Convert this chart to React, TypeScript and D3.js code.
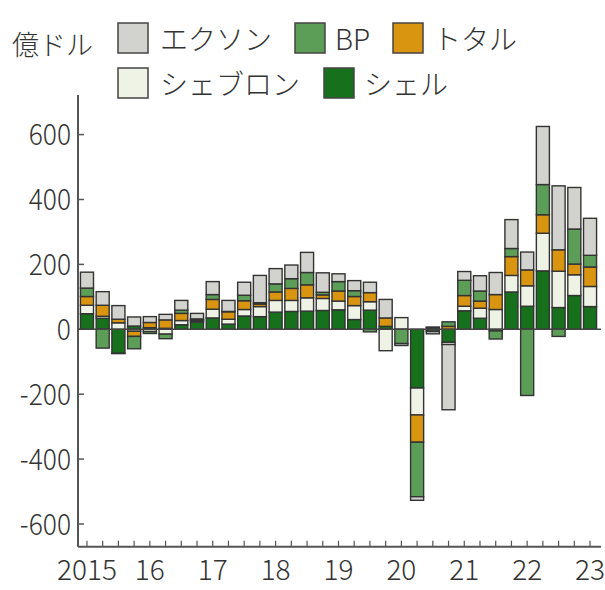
import React from 'react';
import * as d3 from 'd3';

// Quarterly net income of five oil majors, in 億ドル (100 million USD)
const quarters = [
  '2015Q1', '2015Q2', '2015Q3', '2015Q4',
  '2016Q1', '2016Q2', '2016Q3', '2016Q4',
  '2017Q1', '2017Q2', '2017Q3', '2017Q4',
  '2018Q1', '2018Q2', '2018Q3', '2018Q4',
  '2019Q1', '2019Q2', '2019Q3', '2019Q4',
  '2020Q1', '2020Q2', '2020Q3', '2020Q4',
  '2021Q1', '2021Q2', '2021Q3', '2021Q4',
  '2022Q1', '2022Q2', '2022Q3', '2022Q4',
  '2023Q1',
];

const shell = [48, 34, -74, 10, 5, 3, 14, 22, 35, 16, 41, 39, 53, 55, 56, 58, 60, 30, 59, 9, 0, -181, 5, -40, 57, 34, -5, 115, 71, 180, 67, 104, 70];
const chevron = [26, 6, 20, -6, -7, -15, 13, 4, 27, 15, 20, 31, 36, 34, 41, 37, 27, 43, 26, -66, 36, -83, -2, -7, 14, 31, 61, 51, 63, 116, 112, 64, 62];
const total = [27, 34, 11, -16, 16, 26, 22, 3, 30, 23, 27, 8, 26, 37, 40, 11, 31, 28, 28, 26, 0, -84, 2, 9, 33, 22, 46, 58, 49, 57, 66, 33, 60];
const bp = [26, -58, -1, -38, -6, -14, 10, 3, 15, 1, 17, 4, 25, 30, 38, 8, 29, 18, -8, 0, -44, -168, -5, 14, 47, 31, -25, 25, -204, 93, -22, 108, 36];
const exxon = [49, 42, 42, 28, 18, 17, 30, 17, 40, 34, 40, 84, 47, 42, 62, 60, 24, 31, 32, 57, -6, -11, -7, -201, 27, 47, 68, 89, 55, 179, 197, 128, 114];

const yearTickQuarters = ['2015Q1', '2016Q1', '2017Q1', '2018Q1', '2019Q1', '2020Q1', '2021Q1', '2022Q1', '2023Q1'];
const yearLabels = ['2015', '16', '17', '18', '19', '20', '21', '22', '23'];
const yTicks = [-600, -400, -200, 0, 200, 400, 600];

// stacking order, bottom to top
const keys = ['shell', 'chevron', 'total', 'bp', 'exxon'];
const names: Record<string, string> = {
  exxon: 'エクソン',
  bp: 'BP',
  total: 'トタル',
  chevron: 'シェブロン',
  shell: 'シェル',
};
const colors: Record<string, string> = {
  exxon: '#d2d3cf',
  bp: '#5c9d58',
  total: '#d9950f',
  chevron: '#eef3e6',
  shell: '#17701b',
};

const W = 605;
const H = 590;
const FONT = '"Noto Sans CJK JP", "Noto Sans", sans-serif';

export default function App() {
  const x = d3
    .scaleBand<string>()
    .domain(quarters)
    .range([79.1, 597.9])
    .paddingInner(0.17)
    .paddingOuter(0.085);
  const y = d3.scaleLinear().domain([-670, 722]).range([546.7, 95]);

  const rows = quarters.map((q, i) => ({
    q,
    shell: shell[i],
    chevron: chevron[i],
    total: total[i],
    bp: bp[i],
    exxon: exxon[i],
  }));
  const series = d3
    .stack<any>()
    .keys(keys)
    .offset(d3.stackOffsetDiverging)(rows);

  const axisColor = '#555';
  const x0 = 78;
  const x1 = 601;
  const yBottom = y.range()[0];
  const yTop = y.range()[1];

  const legendRows = [
    [
      { key: 'exxon', bx: 118, tx: 160 },
      { key: 'bp', bx: 295, tx: 335 },
      { key: 'total', bx: 393, tx: 433 },
    ],
    [
      { key: 'chevron', bx: 118, tx: 160 },
      { key: 'shell', bx: 324, tx: 364 },
    ],
  ];
  const legendY = [23, 68];

  return (
    <svg
      width={W}
      height={H}
      style={{ position: 'absolute', left: 0, top: 0, background: '#fff' }}
      fontFamily={FONT}
      fontWeight={300}
    >
      {/* unit label */}
      <text x={12} y={55} fontSize={27} fill="#333">
        億ドル
      </text>

      {/* legend */}
      {legendRows.map((row, ri) =>
        row.map((item) => (
          <g key={item.key}>
            <rect
              x={item.bx}
              y={legendY[ri]}
              width={30}
              height={30}
              fill={colors[item.key]}
              stroke="#444"
              strokeWidth={1.5}
            />
            <text x={item.tx} y={legendY[ri] + 27} fontSize={28} fill="#333">
              {names[item.key]}
            </text>
          </g>
        ))
      )}

      {/* y axis */}
      <line x1={x0} x2={x0} y1={yTop} y2={yBottom} stroke={axisColor} strokeWidth={2} />
      {yTicks.map((t) => (
        <g key={t}>
          <line x1={x0} x2={x0 + 6} y1={y(t)} y2={y(t)} stroke={axisColor} strokeWidth={1.5} />
          <text
            x={71}
            y={y(t)}
            dy="0.36em"
            textAnchor="end"
            fontSize={30}
            fill="#333"
            transform={`translate(71,0) scale(0.88,1) translate(-71,0)`}
          >
            {t < 0 ? `-${Math.abs(t)}` : t}
          </text>
        </g>
      ))}

      {/* bars */}
      {series.map((s) => (
        <g key={s.key}>
          {s.map((d, i) => {
            const h = y(d[0]) - y(d[1]);
            if (h <= 0) return null;
            return (
              <rect
                key={i}
                x={x(quarters[i])}
                y={y(d[1])}
                width={x.bandwidth()}
                height={h}
                fill={colors[s.key]}
                stroke="#333"
                strokeWidth={1.4}
              />
            );
          })}
        </g>
      ))}

      {/* zero line */}
      <line x1={x0} x2={x1} y1={y(0)} y2={y(0)} stroke="#444" strokeWidth={1.5} />

      {/* x axis */}
      <line x1={x0} x2={x1} y1={yBottom} y2={yBottom} stroke={axisColor} strokeWidth={2} />
      {quarters.map((q) => {
        const cx = (x(q) ?? 0) + x.bandwidth() / 2;
        return (
          <line key={q} x1={cx} x2={cx} y1={yBottom} y2={yBottom - 6} stroke={axisColor} strokeWidth={1.2} />
        );
      })}
      {yearTickQuarters.map((q, i) => {
        const cx = (x(q) ?? 0) + x.bandwidth() / 2;
        return (
          <text key={q} x={cx} y={580} textAnchor="middle" fontSize={28} fill="#333">
            {yearLabels[i]}
          </text>
        );
      })}
    </svg>
  );
}
